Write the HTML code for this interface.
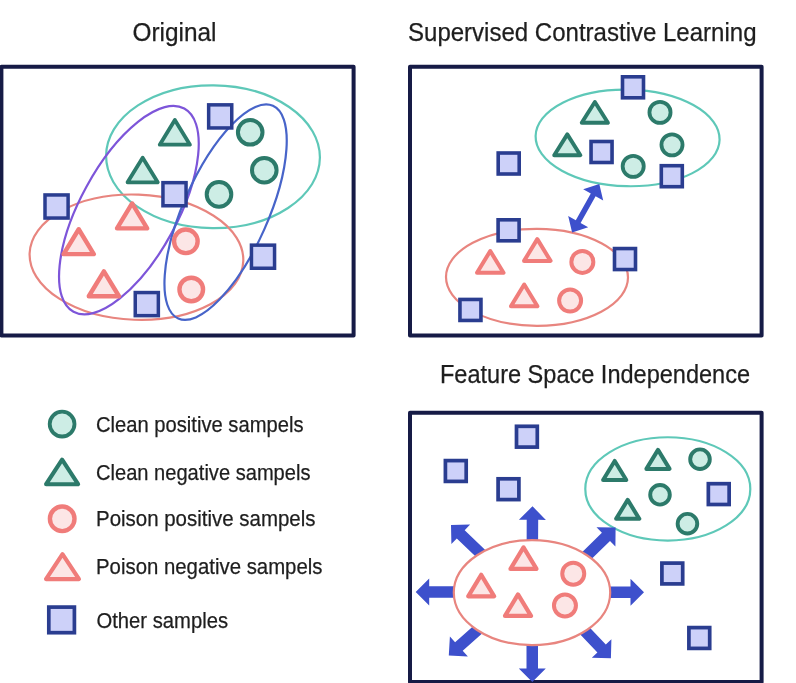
<!DOCTYPE html>
<html><head><meta charset="utf-8"><style>
html,body{margin:0;padding:0;background:#fff;width:796px;height:683px;overflow:hidden}
svg{display:block}
text{font-family:"Liberation Sans",sans-serif;fill:#1e1e1e;stroke:#1e1e1e;stroke-width:0.25px}
</style></head><body>
<svg width="796" height="683" viewBox="0 0 796 683">
<rect x="1.4" y="66.8" width="352.20000000000005" height="268.59999999999997" fill="none" stroke="#161b46" stroke-width="4.0" stroke-linejoin="round"/>
<ellipse cx="213" cy="156.7" rx="106.9" ry="71.4" fill="none" stroke="#5ec8b8" stroke-width="2.2" transform="rotate(0.6 213 156.7)"/>
<ellipse cx="136.45" cy="257.2" rx="106.9" ry="62.6" fill="none" stroke="#e8857f" stroke-width="2.2" transform="rotate(2.1 136.45 257.2)"/>
<ellipse cx="128.9" cy="210.15" rx="115.7" ry="48.5" fill="none" stroke="#7d55d9" stroke-width="2.2" transform="rotate(-61.4 128.9 210.15)"/>
<ellipse cx="225.6" cy="212.2" rx="116.4" ry="42.35" fill="none" stroke="#4764c9" stroke-width="2.2" transform="rotate(-66 225.6 212.2)"/>
<polygon points="174.85,119.95000000000002 189.95,144.65 159.75,144.65" fill="#cdede5" stroke="#2c7a6a" stroke-width="3.8" stroke-linejoin="round"/>
<polygon points="142.65,157.65 157.75,182.35 127.55000000000001,182.35" fill="#cdede5" stroke="#2c7a6a" stroke-width="3.8" stroke-linejoin="round"/>
<circle cx="250.2" cy="132.3" r="12.3" fill="#cdede5" stroke="#2c7a6a" stroke-width="4"/>
<circle cx="264.3" cy="170.2" r="12.3" fill="#cdede5" stroke="#2c7a6a" stroke-width="4"/>
<circle cx="219" cy="194.4" r="12.3" fill="#cdede5" stroke="#2c7a6a" stroke-width="4"/>
<polygon points="132.1,203.45000000000002 147.2,228.35 117.0,228.35" fill="#fce6e6" stroke="#f07c7a" stroke-width="4.4" stroke-linejoin="round"/>
<polygon points="78.7,229.25 93.8,254.14999999999998 63.6,254.14999999999998" fill="#fce6e6" stroke="#f07c7a" stroke-width="4.4" stroke-linejoin="round"/>
<polygon points="103.9,271.35 119.0,296.25 88.80000000000001,296.25" fill="#fce6e6" stroke="#f07c7a" stroke-width="4.4" stroke-linejoin="round"/>
<circle cx="185.85" cy="241.35" r="11.8" fill="#fce6e6" stroke="#f07c7a" stroke-width="4.4"/>
<circle cx="191.25" cy="289.5" r="11.8" fill="#fce6e6" stroke="#f07c7a" stroke-width="4.4"/>
<rect x="208.64999999999998" y="104.85000000000001" width="23.1" height="23.1" fill="#cdd1f9" stroke="#2a3d90" stroke-width="3.5" stroke-linejoin="miter"/>
<rect x="162.95" y="182.64999999999998" width="23.1" height="23.1" fill="#cdd1f9" stroke="#2a3d90" stroke-width="3.5" stroke-linejoin="miter"/>
<rect x="45.0" y="194.95" width="23.1" height="23.1" fill="#cdd1f9" stroke="#2a3d90" stroke-width="3.5" stroke-linejoin="miter"/>
<rect x="251.45" y="245.14999999999998" width="23.1" height="23.1" fill="#cdd1f9" stroke="#2a3d90" stroke-width="3.5" stroke-linejoin="miter"/>
<rect x="135.25" y="292.55" width="23.1" height="23.1" fill="#cdd1f9" stroke="#2a3d90" stroke-width="3.5" stroke-linejoin="miter"/>
<rect x="410.0" y="66.8" width="351.6" height="268.59999999999997" fill="none" stroke="#161b46" stroke-width="4.0" stroke-linejoin="round"/>
<ellipse cx="627.6" cy="137.9" rx="92" ry="48.3" fill="none" stroke="#5ec8b8" stroke-width="2.2" transform="rotate(1.16 627.6 137.9)"/>
<ellipse cx="537" cy="277.3" rx="91" ry="48.5" fill="none" stroke="#e8857f" stroke-width="2.2" transform="rotate(0.2 537 277.3)"/>
<polygon points="594.85,102.0 607.95,122.80000000000001 581.75,122.80000000000001" fill="#cdede5" stroke="#2c7a6a" stroke-width="3.9" stroke-linejoin="round"/>
<polygon points="567.3,134.4 580.4,155.20000000000002 554.1999999999999,155.20000000000002" fill="#cdede5" stroke="#2c7a6a" stroke-width="3.9" stroke-linejoin="round"/>
<circle cx="660" cy="112.4" r="10.55" fill="#cdede5" stroke="#2c7a6a" stroke-width="3.8"/>
<circle cx="672" cy="144.85" r="10.55" fill="#cdede5" stroke="#2c7a6a" stroke-width="3.8"/>
<circle cx="633.2" cy="166.35" r="10.55" fill="#cdede5" stroke="#2c7a6a" stroke-width="3.8"/>
<polygon points="537.3,239.1 550.55,260.9 524.05,260.9" fill="#fce6e6" stroke="#f07c7a" stroke-width="4.0" stroke-linejoin="round"/>
<polygon points="490.25,250.99999999999997 503.5,272.79999999999995 477.0,272.79999999999995" fill="#fce6e6" stroke="#f07c7a" stroke-width="4.0" stroke-linejoin="round"/>
<polygon points="524.2,284.5 537.45,306.29999999999995 510.95000000000005,306.29999999999995" fill="#fce6e6" stroke="#f07c7a" stroke-width="4.0" stroke-linejoin="round"/>
<circle cx="582.35" cy="261.9" r="11.0" fill="#fce6e6" stroke="#f07c7a" stroke-width="4.0"/>
<circle cx="570.1" cy="300.55" r="11.0" fill="#fce6e6" stroke="#f07c7a" stroke-width="4.0"/>
<rect x="622.5" y="76.8" width="21" height="21" fill="#cdd1f9" stroke="#2a3d90" stroke-width="3.6" stroke-linejoin="miter"/>
<rect x="591.05" y="141.5" width="21" height="21" fill="#cdd1f9" stroke="#2a3d90" stroke-width="3.6" stroke-linejoin="miter"/>
<rect x="498.2" y="153.0" width="21" height="21" fill="#cdd1f9" stroke="#2a3d90" stroke-width="3.6" stroke-linejoin="miter"/>
<rect x="661.3" y="165.7" width="21" height="21" fill="#cdd1f9" stroke="#2a3d90" stroke-width="3.6" stroke-linejoin="miter"/>
<rect x="498.1" y="219.8" width="21" height="21" fill="#cdd1f9" stroke="#2a3d90" stroke-width="3.6" stroke-linejoin="miter"/>
<rect x="614.5" y="248.55" width="21" height="21" fill="#cdd1f9" stroke="#2a3d90" stroke-width="3.6" stroke-linejoin="miter"/>
<rect x="459.95" y="299.45" width="21" height="21" fill="#cdd1f9" stroke="#2a3d90" stroke-width="3.6" stroke-linejoin="miter"/>
<polygon points="572.1,232.6 588.2,227.3 580.6,223.0 595.6,196.3 603.2,200.5 599.3,184.0 583.2,189.3 590.8,193.6 575.8,220.3 568.2,216.1" fill="#3d50cc"/>
<rect x="410.0" y="412.8" width="351.6" height="269.2" fill="none" stroke="#161b46" stroke-width="4.0" stroke-linejoin="round"/>
<ellipse cx="667.8" cy="488.9" rx="82.5" ry="51.65" fill="none" stroke="#5ec8b8" stroke-width="2.2"/>
<polygon points="538.0,560.0 538.2,519.8 545.9,519.9 532.5,506.3 518.9,519.7 526.7,519.8 526.6,560.0" fill="#3d50cc"/>
<polygon points="480.0,586.2 429.2,586.2 429.2,578.5 415.7,592.0 429.2,605.5 429.2,597.8 480.0,597.8" fill="#3d50cc"/>
<polygon points="590.0,598.0 630.5,598.0 630.5,605.7 644.0,592.2 630.5,578.7 630.5,586.5 590.0,586.6" fill="#3d50cc"/>
<polygon points="526.5,620.0 526.5,668.5 518.8,668.5 532.3,682.0 545.8,668.5 538.0,668.5 538.0,620.0" fill="#3d50cc"/>
<polygon points="504.0,567.9 464.7,530.2 470.1,524.6 451.0,525.0 451.4,544.1 456.8,538.5 496.0,576.1" fill="#3d50cc"/>
<polygon points="574.0,576.1 610.0,541.0 615.4,546.6 615.6,527.5 596.5,527.3 601.9,532.8 566.0,567.9" fill="#3d50cc"/>
<polygon points="496.2,605.7 455.1,642.2 449.9,636.4 448.8,655.5 467.9,656.6 462.7,650.8 503.8,614.3" fill="#3d50cc"/>
<polygon points="560.8,614.0 597.4,652.5 591.8,657.8 610.9,658.3 611.4,639.2 605.8,644.6 569.2,606.0" fill="#3d50cc"/>
<ellipse cx="532" cy="592.6" rx="78.2" ry="52.5" fill="#fff" stroke="#e8857f" stroke-width="2.2"/>
<polygon points="614.7,460.95 626.3000000000001,479.95 603.1,479.95" fill="#cdede5" stroke="#2c7a6a" stroke-width="4.0" stroke-linejoin="round"/>
<polygon points="658,449.9 669.6,468.9 646.4,468.9" fill="#cdede5" stroke="#2c7a6a" stroke-width="4.0" stroke-linejoin="round"/>
<polygon points="627.7,499.85 639.3000000000001,518.85 616.1,518.85" fill="#cdede5" stroke="#2c7a6a" stroke-width="4.0" stroke-linejoin="round"/>
<circle cx="700" cy="459.2" r="9.8" fill="#cdede5" stroke="#2c7a6a" stroke-width="3.9"/>
<circle cx="660" cy="494.8" r="9.8" fill="#cdede5" stroke="#2c7a6a" stroke-width="3.9"/>
<circle cx="687.45" cy="523.7" r="9.8" fill="#cdede5" stroke="#2c7a6a" stroke-width="3.9"/>
<polygon points="523.5,547.4 536.5,568.9 510.5,568.9" fill="#fce6e6" stroke="#f07c7a" stroke-width="4.2" stroke-linejoin="round"/>
<polygon points="481.2,574.8 494.2,596.3 468.2,596.3" fill="#fce6e6" stroke="#f07c7a" stroke-width="4.2" stroke-linejoin="round"/>
<polygon points="518,594.45 531.0,615.95 505.0,615.95" fill="#fce6e6" stroke="#f07c7a" stroke-width="4.2" stroke-linejoin="round"/>
<circle cx="573.25" cy="573.7" r="11" fill="#fce6e6" stroke="#f07c7a" stroke-width="4.0"/>
<circle cx="564.95" cy="605.5" r="11" fill="#fce6e6" stroke="#f07c7a" stroke-width="4.0"/>
<rect x="516.5" y="426.3" width="20.8" height="20.8" fill="#cdd1f9" stroke="#2a3d90" stroke-width="3.7" stroke-linejoin="miter"/>
<rect x="445.40000000000003" y="460.6" width="20.8" height="20.8" fill="#cdd1f9" stroke="#2a3d90" stroke-width="3.7" stroke-linejoin="miter"/>
<rect x="498.1" y="478.8" width="20.8" height="20.8" fill="#cdd1f9" stroke="#2a3d90" stroke-width="3.7" stroke-linejoin="miter"/>
<rect x="708.35" y="483.70000000000005" width="20.8" height="20.8" fill="#cdd1f9" stroke="#2a3d90" stroke-width="3.7" stroke-linejoin="miter"/>
<rect x="661.9" y="563.1" width="20.8" height="20.8" fill="#cdd1f9" stroke="#2a3d90" stroke-width="3.7" stroke-linejoin="miter"/>
<rect x="688.9" y="627.6" width="20.8" height="20.8" fill="#cdd1f9" stroke="#2a3d90" stroke-width="3.7" stroke-linejoin="miter"/>
<circle cx="62.1" cy="424.1" r="12.4" fill="#cdede5" stroke="#2c7a6a" stroke-width="3.8"/>
<polygon points="62.1,459.59999999999997 78.1,484.2 46.1,484.2" fill="#cdede5" stroke="#2c7a6a" stroke-width="4.1" stroke-linejoin="round"/>
<circle cx="62.2" cy="518.8" r="12.3" fill="#fce6e6" stroke="#f07c7a" stroke-width="4.4"/>
<polygon points="62.5,554.1 79.0,579.1 46.0,579.1" fill="#fce6e6" stroke="#f07c7a" stroke-width="4.1" stroke-linejoin="round"/>
<rect x="48.8" y="607.1" width="25.6" height="25.6" fill="#cdd1f9" stroke="#2a3d90" stroke-width="3.7" stroke-linejoin="miter"/>
<g style="will-change:transform">
<text x="132.52" y="40.5" font-size="25.5" textLength="83.98" lengthAdjust="spacingAndGlyphs">Original</text>
<text x="408.0" y="40.5" font-size="25.5" textLength="348.5" lengthAdjust="spacingAndGlyphs">Supervised Contrastive Learning</text>
<text x="440.0" y="383.4" font-size="25.5" textLength="310.0" lengthAdjust="spacingAndGlyphs">Feature Space Independence</text>
<text x="96.0" y="431.9" font-size="21.3" textLength="207.5" lengthAdjust="spacingAndGlyphs">Clean positive sampels</text>
<text x="96.0" y="479.6" font-size="21.3" textLength="214.5" lengthAdjust="spacingAndGlyphs">Clean negative sampels</text>
<text x="96.01" y="526.0" font-size="21.3" textLength="219.49" lengthAdjust="spacingAndGlyphs">Poison positive sampels</text>
<text x="96.01" y="573.9" font-size="21.3" textLength="226.49" lengthAdjust="spacingAndGlyphs">Poison negative sampels</text>
<text x="96.51" y="627.5" font-size="21.3" textLength="131.49" lengthAdjust="spacingAndGlyphs">Other samples</text>
</g>
</svg>
</body></html>
